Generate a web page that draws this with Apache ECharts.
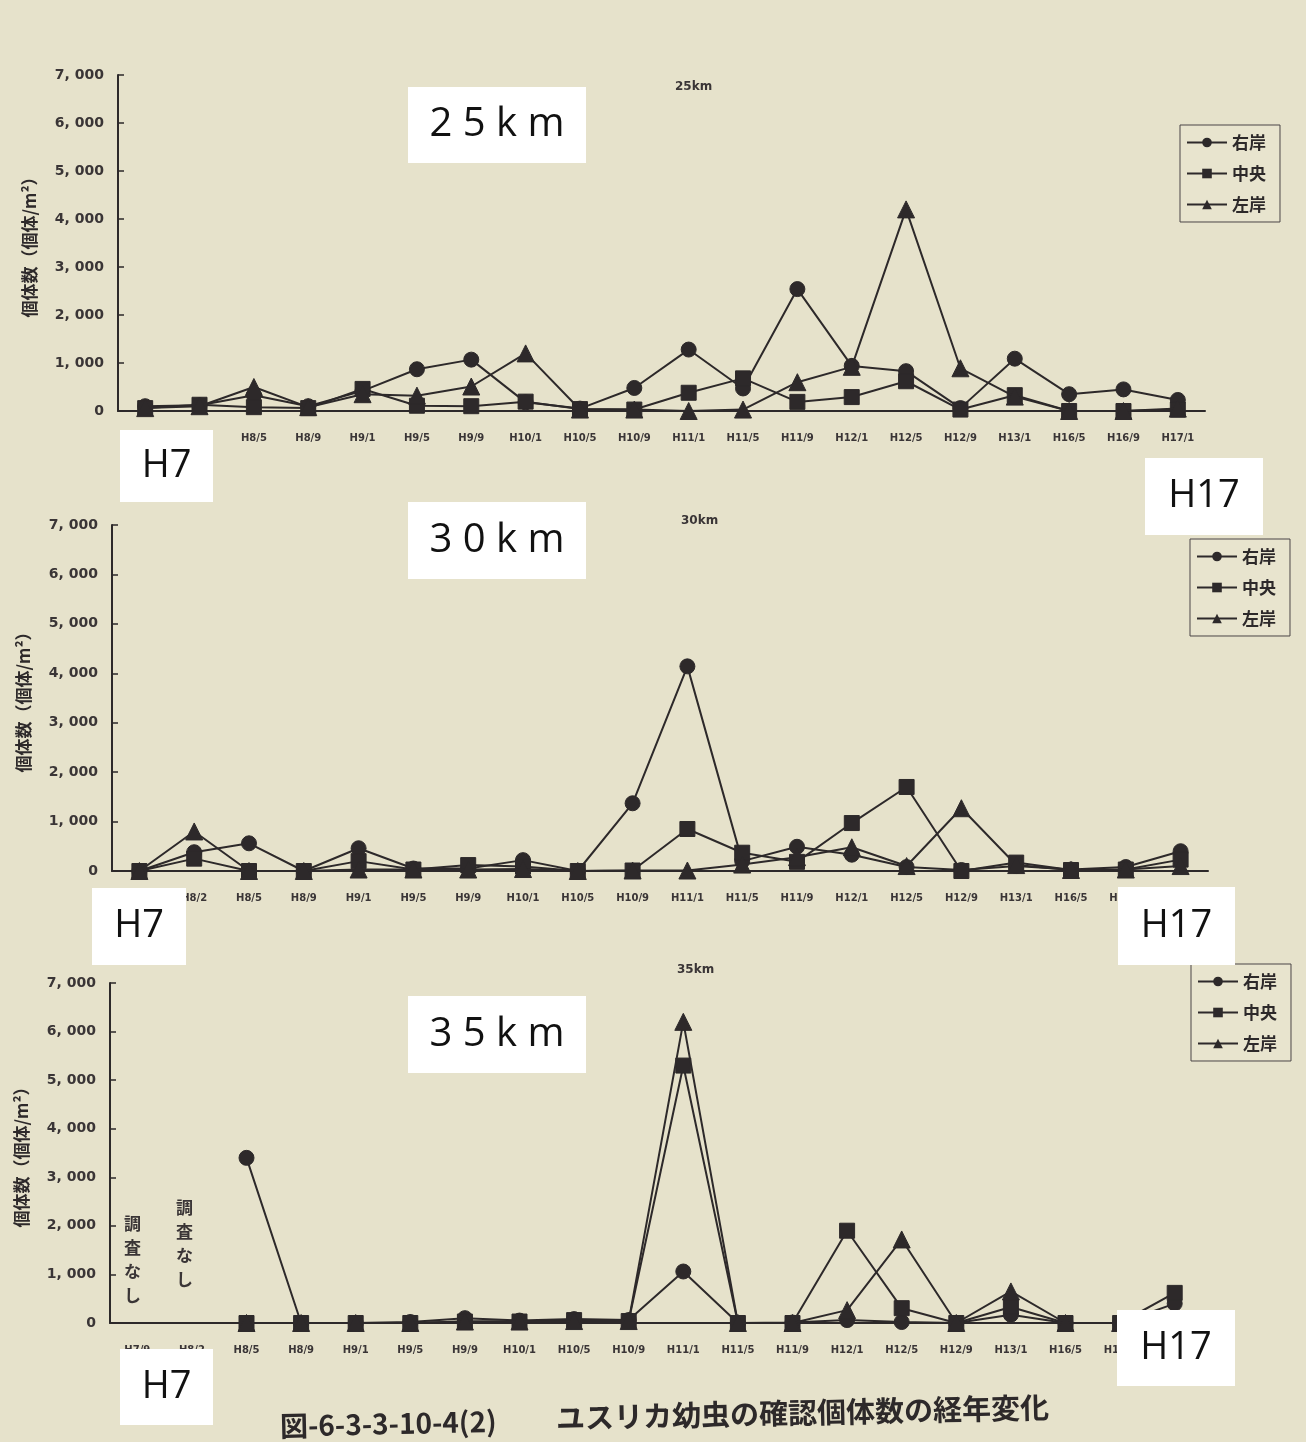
<!DOCTYPE html>
<html>
<head>
<meta charset="utf-8">
<script src="https://cdn.jsdelivr.net/npm/echarts@6/dist/echarts.min.js"></script>
<style>
html,body{margin:0;padding:0;background:#e6e2cb;}
#c{width:1306px;height:1442px;}
</style>
</head>
<body>
<div id="c"></div>
<script>
// ---- data ----
const categories = ['H7/9','H8/2','H8/5','H8/9','H9/1','H9/5','H9/9','H10/1','H10/5','H10/9','H11/1','H11/5','H11/9','H12/1','H12/5','H12/9','H13/1','H16/5','H16/9','H17/1'];
const seriesNames = ['右岸','中央','左岸'];
const panelTitles = ['25km','30km','35km'];
const yTicks = [0,1000,2000,3000,4000,5000,6000,7000];

// 25km
const km25Right  = [100,120,330,100,420,870,1070,180,50,480,1280,470,2540,940,830,60,1090,350,450,230];
const km25Center = [60,130,80,60,460,110,100,195,40,30,380,680,190,290,620,30,330,0,0,30];
const km25Left   = [60,100,500,80,350,320,510,1200,30,30,0,30,600,920,4200,890,300,0,0,50];
// 30km
const km30Right  = [0,380,560,0,460,50,50,220,0,1370,4140,200,490,330,80,20,100,30,80,400];
const km30Center = [0,250,0,0,200,30,120,90,0,10,850,370,185,970,1700,0,170,20,30,230];
const km30Left   = [0,800,0,0,30,30,30,40,0,10,10,130,280,480,100,1270,120,20,30,100];
// 35km (H7/9, H8/2: 調査なし)
const km35Right  = [null,null,3400,0,0,20,100,50,80,60,1060,0,10,60,20,0,170,0,0,400];
const km35Center = [null,null,0,0,0,0,30,30,60,40,5300,0,0,1900,305,0,330,0,0,620];
const km35Left   = [null,null,0,0,0,0,30,30,40,40,6200,0,0,265,1720,0,650,0,0,50];

const panels = [
  [km25Right, km25Center, km25Left],
  [km30Right, km30Center, km30Left],
  [km35Right, km35Center, km35Left]
];

// ---- layout ----
const INK = '#2d292a';
const grids = [
  {left:118, top:75,  width:1087, height:336},
  {left:112, top:525, width:1096, height:346},
  {left:110, top:983, width:1092, height:340}
];
const titlePos = [{left:670, top:76},{left:676, top:510},{left:672, top:959}];
const legendPos = [
  {left:1180, top:125},
  {left:1190, top:539},
  {left:1191, top:964}
];
const symbols = ['circle','rect','triangle'];

const option = {
  backgroundColor:'#e6e2cb',
  animation:false,
  title: panelTitles.map((t,i)=>({
    text:t, left:titlePos[i].left, top:titlePos[i].top,
    textStyle:{fontSize:12, fontWeight:'bold', color:'#3a3536', fontFamily:'DejaVu Sans'}
  })),
  legend: legendPos.map((p,i)=>({
    data:seriesNames, orient:'vertical', left:p.left, top:p.top,
    itemWidth:40, itemHeight:12, itemGap:14,
    padding:[9,14,9,6],
    borderColor:'#4a4546', borderWidth:1,
    backgroundColor:'#e8e4ce',
    textStyle:{fontSize:17, fontWeight:'bold', color:INK, fontFamily:'Noto Sans CJK JP'}
  })),
  grid: grids.map(g=>Object.assign({containLabel:false}, g)),
  xAxis: grids.map((g,i)=>({
    type:'category', gridIndex:i, data:categories, boundaryGap:true,
    axisLine:{lineStyle:{color:INK, width:2}},
    axisTick:{inside:true, length:5, lineStyle:{color:INK, width:1.5}},
    axisLabel:{fontSize:10, fontWeight:'bold', color:'#3a3536', margin:22, interval:0, fontFamily:'DejaVu Sans'}
  })),
  yAxis: grids.map((g,i)=>({
    type:'value', gridIndex:i, min:0, max:7000, interval:1000,
    name:'個体数（個体/m²）', nameLocation:'middle', nameGap:80, nameRotate:90,
    nameTextStyle:{fontSize:17, fontWeight:'bold', color:INK, fontFamily:'Noto Sans CJK JP'},
    axisLine:{show:true, lineStyle:{color:INK, width:2}},
    axisTick:{show:true, inside:true, length:6, lineStyle:{color:INK, width:1.5}},
    splitLine:{show:false},
    axisLabel:{fontSize:14, fontWeight:'bold', color:'#3a3536', margin:14, fontFamily:'DejaVu Sans',
      formatter:v=> v===0 ? '0' : (v/1000)+', 000'}
  })),
  series: [],
  graphic: []
};

panels.forEach((vals,pi)=>{
  vals.forEach((arr,si)=>{
    option.series.push({
      type:'line', name:seriesNames[si], xAxisIndex:pi, yAxisIndex:pi,
      data:arr, symbol:symbols[si], symbolSize: si===2 ? 17 : 15,
      showSymbol:true, connectNulls:false,
      lineStyle:{color:INK, width:2},
      itemStyle:{color:INK, borderColor:INK},
      emphasis:{disabled:true}, z: 3+si
    });
  });
});

// white annotation boxes pasted on the photo
function box(x,y,w,h,text,size){
  return {type:'group', z:100, children:[
    {type:'rect', shape:{x:x,y:y,width:w,height:h}, style:{fill:'#ffffff'}, z:100},
    {type:'text', x:x+w/2, y:y+h/2, z:101,
     style:{text:text, fontSize:size, fontFamily:'Open Sans', fill:'#111', align:'center', verticalAlign:'middle'}}
  ]};
}
option.graphic.push(
  box(408,87,178,76,'2 5 k m',40),
  box(120,430,93,72,'H7',38),
  box(1145,458,118,77,'H17',38),
  box(408,502,178,77,'3 0 k m',40),
  box(92,888,94,77,'H7',38),
  box(1118,887,117,78,'H17',38),
  box(408,996,178,77,'3 5 k m',40),
  box(120,1349,93,76,'H7',38),
  box(1117,1310,118,76,'H17',38),
  {type:'text', x:124, y:1212, z:50, style:{text:'調\n査\nな\nし', fontSize:17, fontWeight:'bold', lineHeight:24, fill:'#3a3536', fontFamily:'Noto Sans CJK JP'}},
  {type:'text', x:176, y:1196, z:50, style:{text:'調\n査\nな\nし', fontSize:17, fontWeight:'bold', lineHeight:24, fill:'#3a3536', fontFamily:'Noto Sans CJK JP'}},
  {type:'text', x:280, y:1426, rotation:0.022, z:50,
   style:{text:'図-6-3-3-10-4(2)', fontSize:28, fontWeight:'bold', fill:'#2d292a', fontFamily:'Noto Sans CJK JP', verticalAlign:'middle'}},
  {type:'text', x:556, y:1418, rotation:0.022, z:50,
   style:{text:'ユスリカ幼虫の確認個体数の経年変化', fontSize:29, fontWeight:'bold', fill:'#2d292a', fontFamily:'Noto Sans CJK JP', verticalAlign:'middle'}}
);

const chart = echarts.init(document.getElementById('c'), null, {renderer:'canvas'});
chart.setOption(option);
</script>
</body>
</html>
